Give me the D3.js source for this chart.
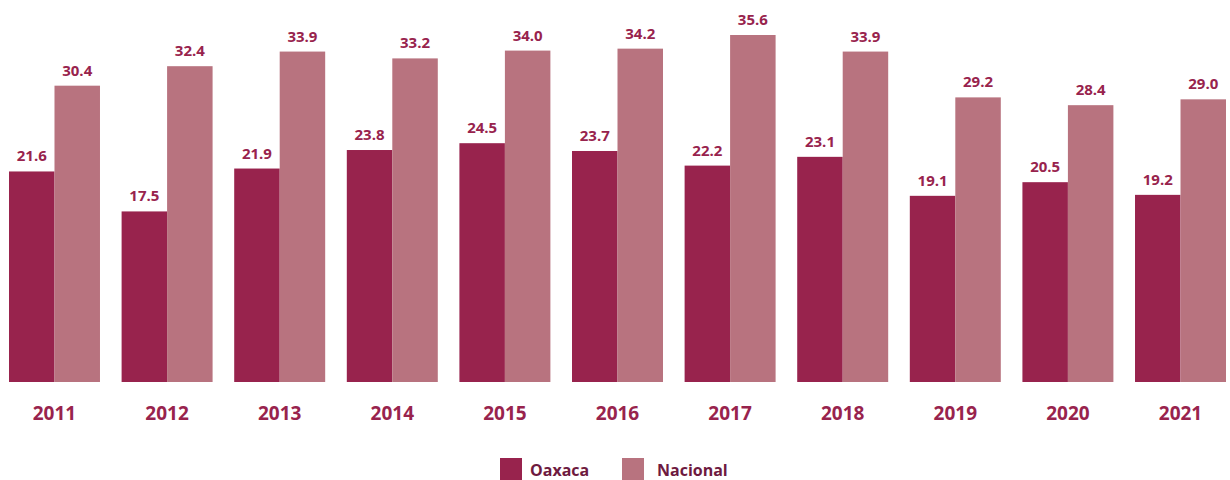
<!DOCTYPE html>
<html>
<head>
<meta charset="utf-8">
<script src="https://cdn.jsdelivr.net/npm/d3@7"></script>
<style>
  body { margin: 0; background: #fff; }
  text { font-family: "Open Sans", "DejaVu Sans", sans-serif; font-weight: 700; }
</style>
</head>
<body>
<div id="chart"></div>
<script>
// data
var years = ["2011","2012","2013","2014","2015","2016","2017","2018","2019","2020","2021"];
var oaxaca = [21.6, 17.5, 21.9, 23.8, 24.5, 23.7, 22.2, 23.1, 19.1, 20.5, 19.2];
var nacional = [30.4, 32.4, 33.9, 33.2, 34.0, 34.2, 35.6, 33.9, 29.2, 28.4, 29.0];
var seriesNames = ["Oaxaca", "Nacional"];
var colors = ["#98234d", "#b8737f"];

var width = 1230, height = 480;
var baseY = 382;

var svg = d3.select("#chart")
  .append("svg")
    .attr("width", width)
    .attr("height", height);

// x scales
var x0 = d3.scaleBand()
    .domain(years)
    .range([9, 1226])
    .paddingInner(0.192)
    .paddingOuter(0);

var x1 = d3.scaleBand()
    .domain(seriesNames)
    .range([0, x0.bandwidth()]);

var y = d3.scaleLinear()
    .domain([0, 35.6])
    .range([baseY, 35]);

var rows = years.map(function(yr, i){
  return {year: yr, vals: [oaxaca[i], nacional[i]]};
});

var groups = svg.selectAll(".grp")
  .data(rows)
  .enter()
  .append("g")
    .attr("class", "grp")
    .attr("transform", function(d){ return "translate(" + x0(d.year) + ",0)"; });

groups.selectAll("rect")
  .data(function(d){ return d.vals.map(function(v, j){ return {name: seriesNames[j], v: v, j: j}; }); })
  .enter()
  .append("rect")
    .attr("x", function(d){ return x1(d.name); })
    .attr("y", function(d){ return y(d.v); })
    .attr("width", x1.bandwidth())
    .attr("height", function(d){ return baseY - y(d.v); })
    .attr("fill", function(d){ return colors[d.j]; });

// value labels
groups.selectAll(".val")
  .data(function(d){ return d.vals.map(function(v, j){ return {name: seriesNames[j], v: v}; }); })
  .enter()
  .append("text")
    .attr("class", "val")
    .attr("x", function(d){ return x1(d.name) + x1.bandwidth() / 2; })
    .attr("y", function(d){ return y(d.v) - 10; })
    .attr("text-anchor", "middle")
    .style("font-size", "15px")
    .attr("fill", "#98234d")
    .text(function(d){ return d3.format(".1f")(d.v); });

// x axis (year labels only)
var xAxis = svg.append("g")
    .attr("transform", "translate(0," + baseY + ")")
    .call(d3.axisBottom(x0).tickSize(0).tickPadding(25));
xAxis.select(".domain").remove();
xAxis.selectAll("text")
    .style("font-size", "19px")
    .style("font-family", "'Open Sans', sans-serif")
    .style("font-weight", "700")
    .attr("fill", "#98234d");

// legend
var legendX = [500, 622];
var legend = svg.selectAll(".leg")
  .data(seriesNames)
  .enter()
  .append("g")
    .attr("class", "leg")
    .attr("transform", function(d, i){ return "translate(" + legendX[i] + ",458)"; });
legend.append("rect")
    .attr("width", 22)
    .attr("height", 22)
    .attr("fill", function(d, i){ return colors[i]; });
legend.append("text")
    .attr("x", function(d, i){ return i == 0 ? 30 : 35; })
    .attr("y", 18)
    .style("font-size", "16px")
    .attr("fill", "#6e1a40")
    .text(function(d){ return d; });
</script>
</body>
</html>
